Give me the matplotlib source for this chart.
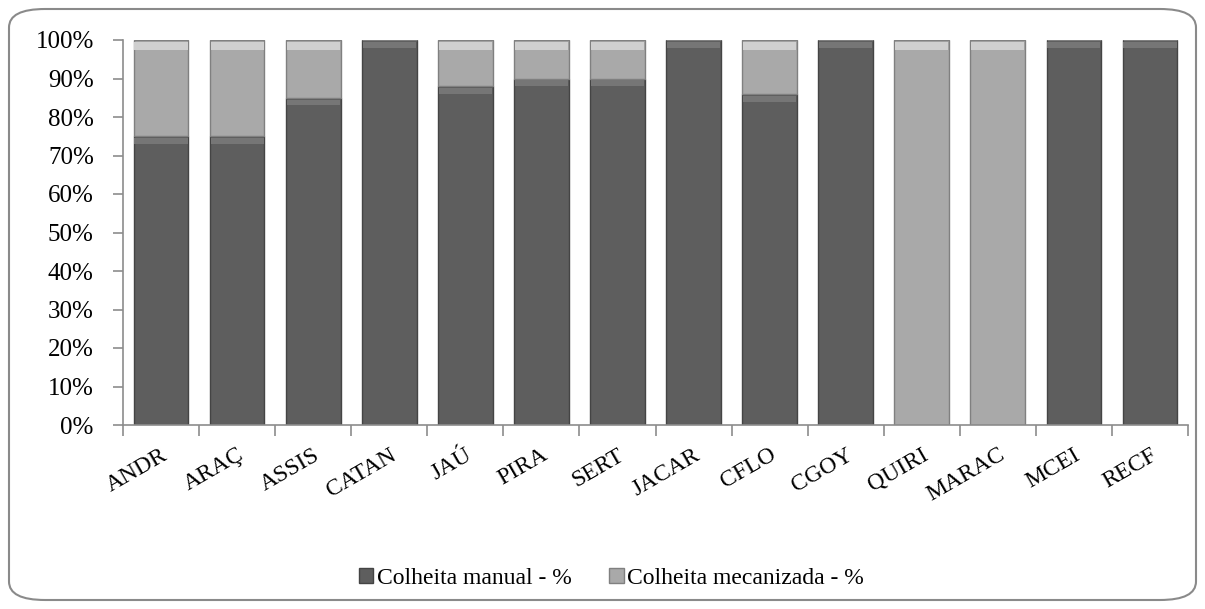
import numpy as np
import matplotlib.pyplot as plt
from matplotlib.patches import FancyBboxPatch, Patch
from matplotlib.ticker import PercentFormatter, FixedLocator, NullFormatter

plt.rcParams["font.family"] = ["Liberation Serif", "DejaVu Serif"]

categories = ["ANDR", "ARAÇ", "ASSIS", "CATAN", "JAÚ", "PIRA", "SERT",
              "JACAR", "CFLO", "CGOY", "QUIRI", "MARAC", "MCEI", "RECF"]
manual = [75, 75, 85, 100, 88, 90, 90, 100, 86, 100, 0, 0, 100, 100]
mecanizada = [25, 25, 15, 0, 12, 10, 10, 0, 14, 0, 100, 100, 0, 0]

dark = "#5e5e5e"
light = "#a9a9a9"
axis_gray = "#8c8c8c"

fig = plt.figure(figsize=(12.05, 6.09), dpi=100)
ax = fig.add_axes([123 / 1205, 1 - 425 / 609, 1065 / 1205, 385 / 609])

x = np.arange(len(categories))
w = 0.72
ax.bar(x, manual, w, color=dark, edgecolor="#444444", linewidth=1.0)
ax.bar(x, mecanizada, w, bottom=manual, color=light, edgecolor="#808080",
       linewidth=1.0)
# soft highlight at the top of each segment (bevel look)
ax.bar(x, [1.5 if m > 0 else 0 for m in manual], w * 0.97,
       bottom=[m - 2.0 for m in manual], color="#767676", linewidth=0)
ax.bar(x, [2.0 if m > 0 else 0 for m in mecanizada], w * 0.97,
       bottom=[m + k - 2.5 for m, k in zip(manual, mecanizada)],
       color="#cfcfcf", linewidth=0)

ax.set_xlim(-0.5, len(categories) - 0.5)
ax.set_ylim(0, 100)
ax.set_yticks(np.arange(0, 101, 10))
ax.yaxis.set_major_formatter(PercentFormatter(decimals=0))
ax.set_xticks(x)
ax.set_xticklabels(categories, rotation=30, ha="right", rotation_mode="anchor")
ax.xaxis.set_minor_locator(FixedLocator(np.arange(-0.5, len(categories), 1)))
ax.xaxis.set_minor_formatter(NullFormatter())
ax.tick_params(axis="x", which="major", length=0, pad=14, labelsize=17)
ax.tick_params(axis="x", which="minor", length=8, color=axis_gray, width=1.2)
ax.tick_params(axis="y", length=7, color=axis_gray, width=1.2, labelsize=18, pad=14)

for s in ["top", "right"]:
    ax.spines[s].set_visible(False)
for s in ["left", "bottom"]:
    ax.spines[s].set_color(axis_gray)
    ax.spines[s].set_linewidth(1.2)

handles = [Patch(facecolor=dark, edgecolor="#444444", label="Colheita manual - %"),
           Patch(facecolor=light, edgecolor="#808080", label="Colheita mecanizada - %")]
fig.legend(handles=handles, loc="center", bbox_to_anchor=(0.5 + 9 / 1205, 1 - 578 / 609),
           ncol=2, frameon=False, fontsize=17, handlelength=0.6, handleheight=0.6,
           handletextpad=0.15, columnspacing=1.6)

frame = FancyBboxPatch((9 / 1205, 9 / 609), 1187 / 1205, 591 / 609,
                       boxstyle="round,pad=0,rounding_size=0.03",
                       transform=fig.transFigure, facecolor="none",
                       edgecolor="#8a8a8a", linewidth=1.5, mutation_aspect=609 / 1205 * 2)
fig.patches.append(frame)

fig.savefig("out.png", dpi=100)
